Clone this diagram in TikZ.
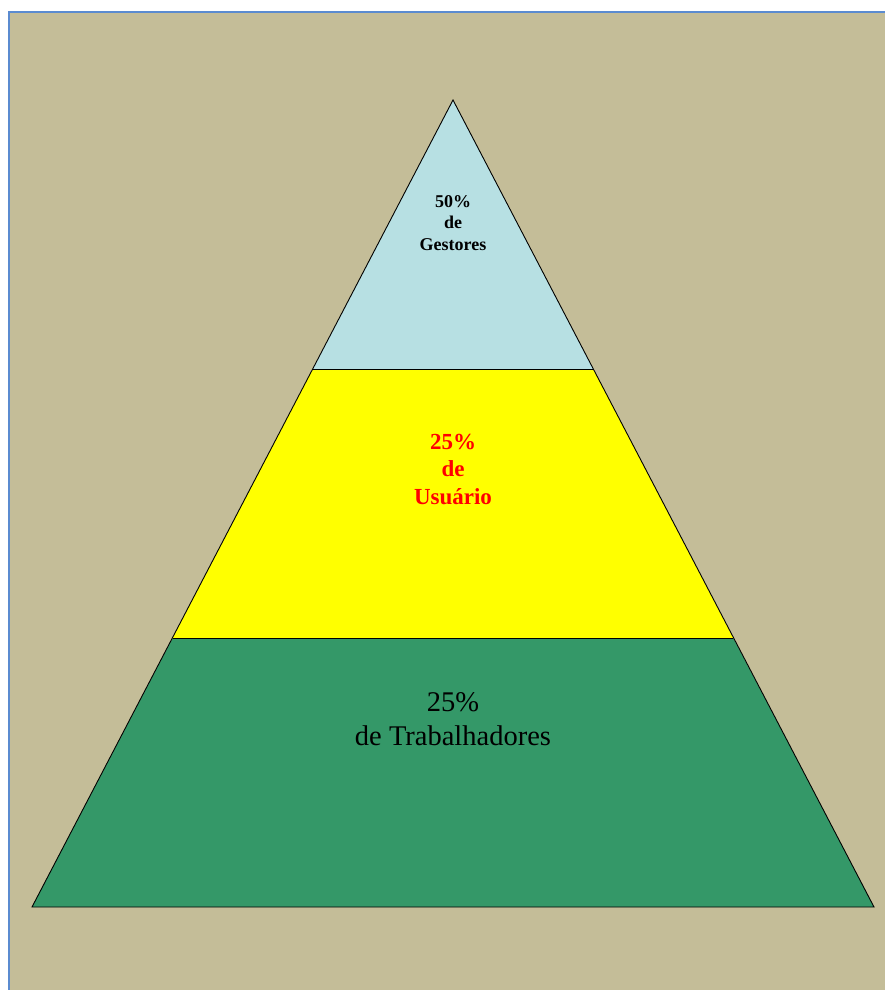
\documentclass[tikz,border=0pt]{standalone}
\usepackage{fontspec}
\setmainfont{Liberation Serif}
\definecolor{bgtan}{RGB}{196,189,152}
\definecolor{frameblue}{RGB}{91,139,208}
\definecolor{topblue}{RGB}{183,224,227}
\definecolor{midyellow}{RGB}{255,255,0}
\definecolor{basegreen}{RGB}{52,152,104}
\tikzset{
  layer/.style={draw=black, line width=0.9pt, line join=miter},
  lbl/.style={align=center, inner sep=0pt},
}
\begin{document}
\begin{tikzpicture}[x=1pt,y=-1pt]
\useasboundingbox (0,0) rectangle (885,990);
\fill[white] (0,0) rectangle (885,990);
\fill[bgtan] (8,11) rectangle (885,990);
\draw[frameblue, line width=2pt] (8.5,990) -- (8.5,11.8) -- (885,11.8);
% pyramid coordinates
\coordinate (apex) at (453,100);
\coordinate (l1) at (312.7,369);
\coordinate (r1) at (593.3,369);
\coordinate (l2) at (172.7,638);
\coordinate (r2) at (733.3,638);
\coordinate (l3) at (32,907);
\coordinate (r3) at (874,907);
\fill[basegreen] (l2) -- (r2) -- (r3) -- (l3) -- cycle;
\fill[midyellow] (l1) -- (r1) -- (r2) -- (l2) -- cycle;
\fill[topblue] (apex) -- (r1) -- (l1) -- cycle;
\draw[layer] (apex) -- (r3) -- (l3) -- cycle;
\draw[layer] (l1) -- (r1);
\draw[layer] (l2) -- (r2);
% labels
\node[lbl, font=\fontsize{18}{21.5}\selectfont\bfseries] (gest) at (453,223) {50\%\\de\\Gestores};
\node[lbl, text=red, font=\fontsize{23}{27.5}\selectfont\bfseries] (usu) at (453,469) {25\%\\de\\Usuário};
\node[lbl, font=\fontsize{28.5}{34}\selectfont] (trab) at (453,719) {25\%\\de Trabalhadores};
\end{tikzpicture}
\end{document}
